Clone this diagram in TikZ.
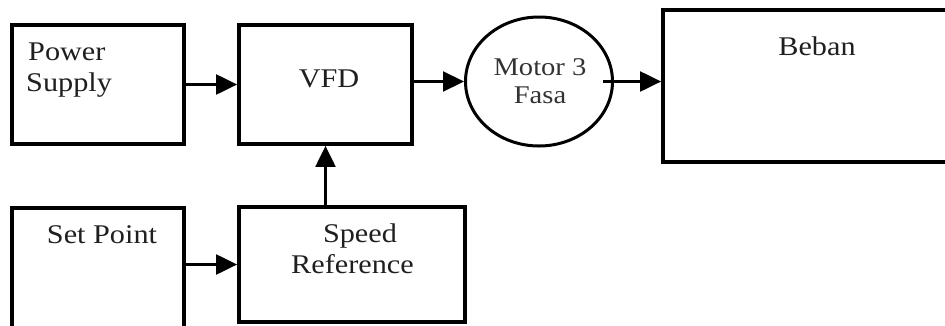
\documentclass[tikz,border=0pt]{standalone}
\usepackage{fontspec}
\setmainfont{Liberation Serif}[FakeStretch=1.12]
\usetikzlibrary{arrows.meta,shapes.geometric}
\begin{document}
\begin{tikzpicture}[x=1pt,y=-1pt,
  box/.style={draw, line width=3.8pt, rectangle, inner sep=0pt},
  motorshape/.style={draw, line width=3pt, ellipse, inner sep=0pt},
  arr/.style={line width=2.2pt, -{Triangle[length=21pt,width=20pt]}},
  txt/.style={inner sep=0pt, font=\fontsize{27}{31}\selectfont, text=black!88},
  mtxt/.style={inner sep=0pt, font=\fontsize{25.5}{29}\selectfont, text=black!80}]
\fill[white] (0,0) rectangle (945,325);
\useasboundingbox (0,0) rectangle (945,325);
% boxes
\node[box, minimum width=172pt, minimum height=119pt] (ps) at (98,84.5) {};
\node[box, minimum width=173pt, minimum height=119pt] (vfd) at (325.5,84.5) {};
\node[motorshape, minimum width=147pt, minimum height=129pt] (motor) at (539,81.5) {};
\node[box, minimum width=285pt, minimum height=152pt] (beban) at (805.5,86) {};
\node[box, minimum width=172pt, minimum height=124pt] (sp) at (98,270) {};
\node[box, minimum width=226pt, minimum height=115pt] (sr) at (352,264.5) {};
% texts
\node[txt, anchor=base west] (t1) at (28,60) {Power};
\node[txt, anchor=base west] (t2) at (26,91) {Supply};
\node[txt, anchor=base] (t3) at (329,87) {VFD};
\node[mtxt, anchor=base] (t4) at (540,75) {Motor 3};
\node[mtxt, anchor=base] (t5) at (540,103) {Fasa};
\node[txt, anchor=base] (t6) at (817,55) {Beban};
\node[txt, anchor=base] (t7) at (102,243) {Set Point};
\node[txt, anchor=base] (t8) at (360,242) {Speed};
\node[txt, anchor=base] (t9) at (352.5,273) {Reference};
% connectors
\draw[arr] (ps.east) -- (ps.east -| vfd.west);
\draw[arr] (vfd.east |- motor.west) -- (motor.west);
\draw[arr] ([xshift=-11pt]motor.east) -- (motor.east -| beban.west);
\draw[arr] (sp.east |- sr.west) -- (sr.west);
\draw[arr] (vfd.south |- sr.north) -- (vfd.south);
\end{tikzpicture}
\end{document}
